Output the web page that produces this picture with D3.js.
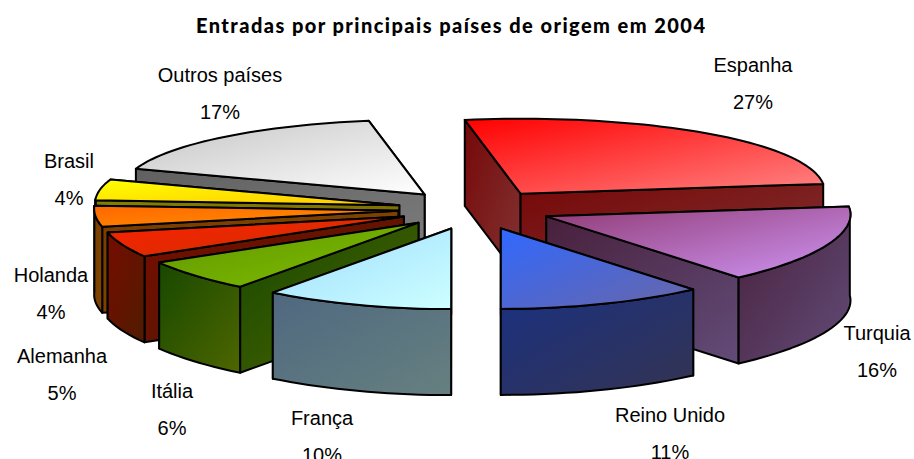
<!DOCTYPE html>
<html><head><meta charset="utf-8">
<script src="https://cdnjs.cloudflare.com/ajax/libs/d3/7.8.5/d3.min.js"></script>
<style>html,body{margin:0;padding:0;background:#fff;overflow:hidden}svg{display:block}</style>
</head><body>
<svg id="c" width="914" height="459"></svg>
<script>
const titleText = "Entradas por principais países de origem em 2004";
const categories = ["Espanha","Turquia","Reino Unido","França","Itália","Alemanha","Holanda","Brasil","Outros países"];
const shares = [27.05,15.51,10.5,9.6,6.1,5.0,4.3,4.49,17.45];
const topFrom  = ["#ff0000","#8f3a72","#3068ff","#9fdcff","#5f9400","#ff2000","#ff6600","#ffff00","#c4c4c4"];
const topTo    = ["#ff8585","#cf95f5","#6a66a5","#ccffff","#80c000","#c83200","#ff9400","#ffc800","#ffffff"];
const wallFrom = ["#760808","#48203c","#1a3080","#4f6880","#174800","#760c00","#7a3c00","#808000","#606060"];
const wallTo   = ["#823434","#624c78","#343452","#668080","#4e6600","#501c00","#804800","#806400","#808080"];
const labelX    = [753,877,670,322,172,62,51,69,220];
const labelY    = [72,340,422,425,398,363,282,168,82];
const paintOrder = [8,0,7,6,5,4,1,3,2];

const W=914,H=459,CX=475,CY=208,RX=304,RY=77,KX=0.04,KY=0.1,LIFT=5,DEPTH=86,EXPLODE=0.253;
const rad=d=>d*Math.PI/180;
const svg=d3.select("#c");
const defs=svg.append("defs");

function grad(id,a,b){
  const g=defs.append("linearGradient").attr("id",id).attr("x1",0).attr("y1",0).attr("x2",1).attr("y2",1);
  g.append("stop").attr("offset",0).attr("stop-color",a);
  g.append("stop").attr("offset",1).attr("stop-color",b);
}
categories.forEach((c,i)=>{grad("t"+i,topFrom[i],topTo[i]);grad("w"+i,wallFrom[i],wallTo[i]);});

// perspective projection of a polar point on the pie plane
const project=(a,rho)=>[
  RX*rho*Math.sin(a)/(1+KX*Math.cos(a)),
  -RY*rho*Math.cos(a)/(1+KY*Math.cos(a))
];
const pie=d3.pie().sort(null).value(d=>d).startAngle(rad(-11)).endAngle(rad(349));
const arcs=pie(shares);
const line=d3.line();

const g=svg.append("g").attr("stroke","#000").attr("stroke-width",2).attr("stroke-linejoin","round");

paintOrder.forEach(i=>{
  const d=arcs[i], mid=(d.startAngle+d.endAngle)/2;
  const off=project(mid,EXPLODE);
  const ax=CX+off[0], ay=CY+off[1];
  const pt=(a)=>{const p=project(a,1);return [ax+p[0],ay+p[1]-LIFT];};
  const n=Math.max(6,Math.ceil((d.endAngle-d.startAngle)/rad(2)));
  const angs=d3.range(n+1).map(k=>d.startAngle+(d.endAngle-d.startAngle)*k/n);
  const rim=angs.map(pt);
  const drop=p=>[p[0],p[1]+DEPTH];
  const apex=[ax,ay];
  const walls=[rim[0],rim[n]].sort((a,b)=>a[1]-b[1]);
  walls.forEach(e=>{
    g.append("path").attr("d",line([apex,e,drop(e),drop(apex)])+"Z").attr("fill",`url(#w${i})`);
  });
  // outer surface: only the near half of the rim shows
  const near=angs.filter(a=>Math.cos(a)<=0.05);
  if(near.length>1){
    const up=near.map(pt), dn=up.map(drop).reverse();
    g.append("path").attr("d",line(up.concat(dn))+"Z").attr("fill",`url(#w${i})`);
  }
  g.append("path").attr("d",line([apex].concat(rim))+"Z").attr("fill",`url(#t${i})`);
});

const lab=svg.append("g").attr("font-family","'Liberation Sans',Arial,sans-serif").attr("font-size",20)
  .attr("text-anchor","middle").attr("fill","#000");
categories.forEach((c,i)=>{
  lab.append("text").attr("x",labelX[i]).attr("y",labelY[i]).text(c);
  lab.append("text").attr("x",labelX[i]).attr("y",labelY[i]+36.5).text(Math.round(shares[i])+"%");
});
svg.append("text").attr("x",450.5).attr("y",33).attr("text-anchor","middle")
  .attr("font-family","Lato,sans-serif").attr("font-weight",900).attr("font-size",20)
  .attr("textLength",509).attr("lengthAdjust","spacing").attr("fill","#000").text(titleText);
</script>
</body></html>
